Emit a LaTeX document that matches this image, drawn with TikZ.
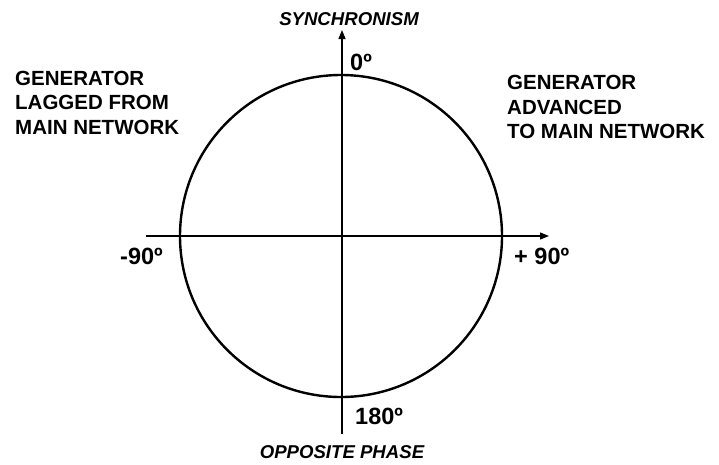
\documentclass[tikz,border=0pt]{standalone}
\usepackage{fontspec}
\setmainfont{Liberation Sans}
\usetikzlibrary{arrows.meta}

\tikzset{
  axisline/.style={line width=1.3pt,-{Triangle[length=9pt,width=7pt]}},
  degree/.style={font=\bfseries\fontsize{23.5}{26}\selectfont,inner sep=0pt},
  phase/.style={font=\bfseries\itshape\fontsize{18.6}{20}\selectfont,inner sep=0pt},
  side/.style={font=\bfseries\fontsize{20.5}{24.5}\selectfont,align=left,inner sep=0pt}
}

\begin{document}
\begin{tikzpicture}[x=1pt,y=-1pt]
  \useasboundingbox (0,0) rectangle (719,464);
  % Circle
  \node[draw,circle,line width=2.4pt,minimum size=322pt,inner sep=0pt] (dial) at (341,236) {};
  % Axis
  \coordinate (west) at (146,236);
  \coordinate (east) at (549,236);
  \coordinate (south) at (342,434);
  \coordinate (north) at (342,30);
  \draw[axisline] (west) -- (east);
  \draw[axisline] (south) -- (north);
  % Angles
  \node[degree,anchor=west] (zero) at (350,62) {0º};
  \node[degree,anchor=west] (minus) at (120,256) {-90º};
  \node[degree,anchor=west] (plus) at (514,256) {+ 90º};
  \node[degree,anchor=west] (half) at (355,416) {180º};
  % Phase names
  \node[phase] (sync) at (349,19) {SYNCHRONISM};
  \node[phase] (opp) at (342,452) {OPPOSITE PHASE};
  % Generator states
  \node[side,anchor=north west] (lag) at (15,70.5) {GENERATOR\\LAGGED FROM\\MAIN NETWORK};
  \node[side,anchor=north west] (adv) at (507,75) {GENERATOR\\ADVANCED\\TO MAIN NETWORK};
\end{tikzpicture}
\end{document}
